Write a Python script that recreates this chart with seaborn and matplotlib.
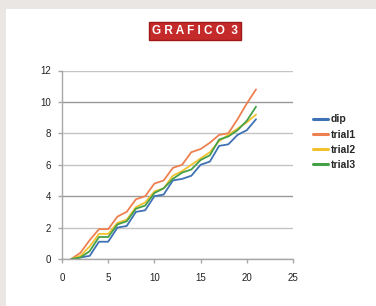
import pandas as pd
import matplotlib.pyplot as plt
import seaborn as sns
from matplotlib.patches import Rectangle

# Values
x_vals = list(range(1, 22))
dip = [0.0, 0.1, 0.2, 1.1, 1.1, 2.0, 2.1, 3.0, 3.1, 4.0, 4.1,
       5.0, 5.1, 5.3, 6.0, 6.2, 7.2, 7.3, 7.9, 8.2, 8.9]
trial1 = [0.0, 0.4, 1.2, 1.9, 1.9, 2.7, 3.0, 3.8, 4.0, 4.8, 5.0,
          5.8, 6.0, 6.8, 7.0, 7.4, 7.9, 8.0, 8.9, 9.9, 10.8]
trial2 = [0.0, 0.2, 0.8, 1.6, 1.6, 2.3, 2.5, 3.3, 3.6, 4.3, 4.5,
          5.3, 5.6, 6.0, 6.4, 6.8, 7.5, 7.9, 8.3, 8.7, 9.2]
trial3 = [0.0, 0.1, 0.5, 1.4, 1.4, 2.2, 2.4, 3.2, 3.4, 4.2, 4.5,
          5.1, 5.5, 5.7, 6.3, 6.6, 7.6, 7.8, 8.2, 8.8, 9.7]
series_names = ["dip", "trial1", "trial2", "trial3"]
x_ticks = [0, 5, 10, 15, 20, 25]
y_ticks = [0, 2, 4, 6, 8, 10, 12]

colors = ["#3f72b5", "#ee8050", "#f2c12e", "#45a047"]

df = pd.DataFrame({"x": x_vals, "dip": dip, "trial1": trial1,
                   "trial2": trial2, "trial3": trial3})
long_df = df.melt(id_vars="x", var_name="serie", value_name="y")

sns.set_style("white")
plt.rcParams["font.family"] = ["Liberation Sans", "DejaVu Sans"]

fig = plt.figure(figsize=(3.76, 3.06), dpi=100)
fig.patch.set_facecolor("#e9e6e3")
# white panel behind the chart
fig.patches.append(Rectangle((6 / 376, 0), 1, 1 - 9 / 306, transform=fig.transFigure,
                             facecolor="white", edgecolor="none", zorder=-5))

ax = fig.add_axes([62 / 376, 1 - 259 / 306, 231 / 376, 188.5 / 306])
ax.set_facecolor("none")
sns.lineplot(data=long_df, x="x", y="y", hue="serie", hue_order=series_names,
             palette=colors, linewidth=1.3, ax=ax, legend=True)

ax.set_xlim(0, 25)
ax.set_ylim(0, 12)
ax.set_xticks(x_ticks)
ax.set_yticks(y_ticks)
ax.set_xlabel("")
ax.set_ylabel("")
ax.grid(axis="y", color="#b0b0b0", linewidth=1.0)
# the scanned original shows some gridlines darker than others
grid_colors = ["#999999", "#c4c4c4", "#999999", "#c4c4c4", "#c4c4c4", "#999999", "#c4c4c4"]
for gl, c in zip(ax.get_ygridlines(), grid_colors):
    gl.set_color(c)
ax.set_axisbelow(True)
for side in ["top", "right"]:
    ax.spines[side].set_visible(False)
for side in ["left", "bottom"]:
    ax.spines[side].set_color("#a8a8a8")
    ax.spines[side].set_linewidth(1.0)
ax.tick_params(axis="both", labelsize=7, colors="#a8a8a8", labelcolor="#222222",
               length=3, width=1.0, direction="out", pad=5)
ax.tick_params(axis="x", pad=7)
ax.yaxis.set_ticks_position("left")
ax.xaxis.set_ticks_position("bottom")

leg = ax.legend(loc="center left", bbox_to_anchor=(1.07, 0.62), frameon=False,
                prop={"size": 7.5, "weight": "bold"}, handlelength=1.4,
                handletextpad=0.3, labelspacing=0.5, borderaxespad=0)
for line in leg.get_lines():
    line.set_linewidth(2.2)

fig.text(195 / 376, 1 - 31 / 306, "G R A F I C O  3", ha="center", va="center",
         fontsize=8.5, fontweight="bold", color="white",
         bbox=dict(boxstyle="square,pad=0.22", facecolor="#c42a2a", edgecolor="#a01818"))

fig.savefig("out.png", dpi=100, facecolor=fig.get_facecolor())
